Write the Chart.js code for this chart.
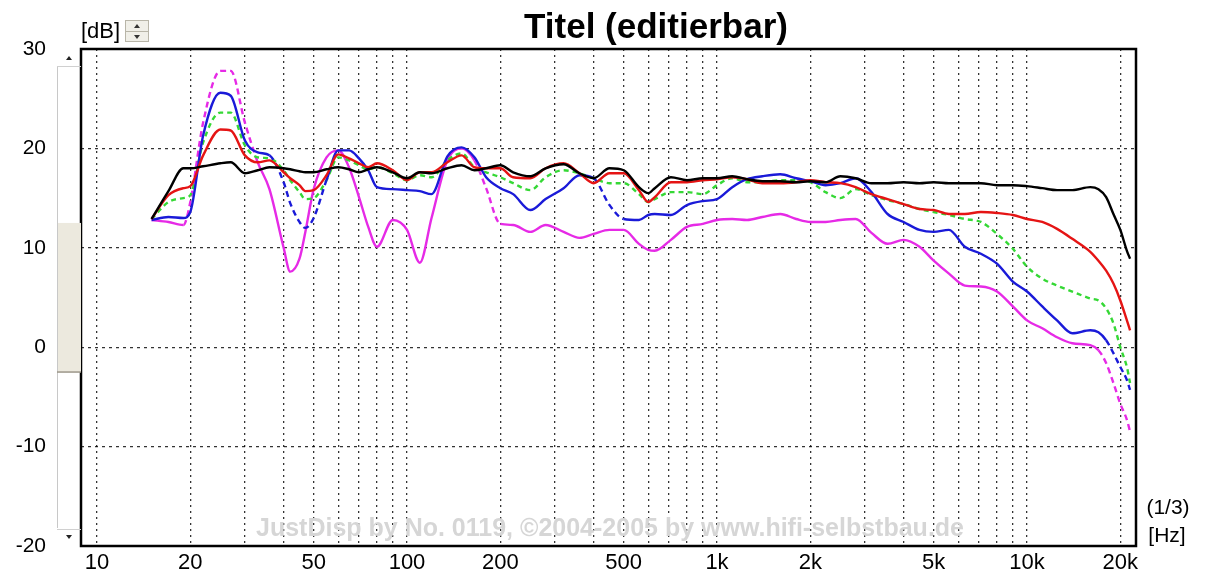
<!DOCTYPE html>
<html>
<head>
<meta charset="utf-8">
<script src="https://cdn.jsdelivr.net/npm/chart.js@4.4.0/dist/chart.umd.min.js"></script>
<style>
  html, body { margin: 0; padding: 0; background: #fff; }
  #wrap { width: 1206px; height: 578px; }
</style>
</head>
<body>
<div id="wrap"><canvas id="chart" width="1206" height="578"></canvas></div>
<script>
// Frequenzgang, 1/3 Oktave geglättet
const FREQS = [
  15, 17, 19, 20, 22, 25, 27, 30, 33, 36,
  40, 42, 45, 47, 50, 55, 60, 65, 70, 75,
  80, 90, 100, 110, 120, 135, 150, 165, 180, 200,
  220, 250, 280, 320, 360, 400, 450, 500, 560, 600,
  630, 710, 800, 900, 1000, 1120, 1250, 1400, 1600, 1800,
  2000, 2240, 2500, 2800, 3150, 3550, 4000, 4500, 5000, 5600,
  6300, 7100, 8000, 9000, 10000, 11200, 12500, 14000, 16000, 17000,
  18000, 19000, 20000, 21000, 21500
];

const BLACK = [
  12.9, 15.7, 18.0, 18.0, 18.2, 18.5, 18.6, 17.5, 17.8, 18.1,
  18.0, 17.9, 17.7, 17.6, 17.6, 17.9, 18.1, 17.9, 17.6, 17.9,
  18.1, 17.6, 17.0, 17.6, 17.5, 18.0, 18.3, 17.8, 18.0, 18.3,
  17.6, 17.2, 18.0, 18.4, 17.5, 17.0, 18.0, 17.8, 16.1, 15.5,
  16.0, 17.1, 16.8, 17.0, 17.0, 17.2, 16.9, 16.7, 16.7, 16.6,
  16.7, 16.6, 17.2, 17.0, 16.5, 16.5, 16.6, 16.5, 16.6, 16.5,
  16.5, 16.5, 16.3, 16.3, 16.2, 16.0, 15.8, 15.8, 16.1, 15.9,
  15.1, 13.4, 11.8, 9.7, 8.9
];

const RED = [
  12.9, 15.3, 16.0, 16.2, 19.3, 21.9, 21.8, 19.3, 18.6, 18.8,
  17.6, 17.0, 16.3, 15.7, 15.8, 17.3, 19.4, 19.0, 18.5, 18.1,
  18.5, 17.8, 16.8, 17.6, 17.6, 18.6, 19.3, 18.1, 18.0, 18.0,
  17.1, 17.0, 18.0, 18.5, 17.5, 16.5, 17.5, 17.5, 15.8, 14.6,
  15.1, 16.6, 16.6, 16.8, 16.9, 17.1, 16.9, 16.5, 16.5, 16.6,
  16.8, 16.6, 16.5, 16.1, 15.4, 14.9, 14.4, 13.9, 13.8, 13.4,
  13.4, 13.6, 13.5, 13.3, 12.9, 12.6, 11.9, 10.9, 9.6, 8.7,
  7.7, 6.4, 4.7, 2.7, 1.7
];

const GREEN = [
  12.9, 14.6, 15.0, 15.3, 20.6, 23.6, 23.6, 20.3, 19.1, 19.0,
  17.8, 16.8, 15.6, 14.9, 15.0, 16.8, 19.1, 18.8, 18.3, 17.9,
  18.1, 17.5, 16.8, 17.3, 17.1, 18.8, 19.5, 18.1, 17.6, 17.1,
  16.5, 15.8, 17.1, 17.8, 17.5, 17.0, 16.5, 16.5, 15.4, 14.6,
  14.9, 15.6, 15.6, 15.4, 16.3, 17.0, 16.6, 16.6, 16.8, 16.8,
  16.6, 15.6, 15.0, 15.9, 15.3, 14.8, 14.4, 13.9, 13.6, 13.3,
  12.9, 12.6, 11.4, 9.9, 8.1, 6.9, 6.2, 5.6, 4.9, 4.7,
  3.9, 2.4, 0.0, -2.0, -3.6
];

const BLUE = [
  12.8, 13.1, 13.0, 13.6, 21.3, 25.6, 25.3, 20.8, 19.6, 19.3,
  16.6, 14.5, 12.6, 12.0, 13.0, 16.8, 19.8, 19.8, 19.0, 17.8,
  16.1, 15.9, 15.8, 15.7, 15.4, 19.2, 20.1, 19.1, 17.1, 16.0,
  15.4, 13.8, 14.9, 16.0, 17.3, 17.0, 14.3, 12.9, 12.8, 13.3,
  13.4, 13.3, 14.3, 14.7, 14.9, 16.1, 16.9, 17.2, 17.4, 17.0,
  16.7, 16.3, 16.5, 17.0, 15.6, 13.4, 12.6, 11.8, 11.6, 11.8,
  10.1, 9.4, 8.4, 6.6, 5.6, 4.1, 2.7, 1.4, 1.7, 1.5,
  0.7, -0.6, -2.0, -3.3, -4.3
];

const MAGENTA = [
  12.8, 12.6, 12.3, 14.6, 22.6, 27.8, 27.8, 22.6, 18.6, 15.9,
  10.0, 7.6, 8.9, 11.6, 15.9, 19.1, 19.8, 18.1, 15.1, 12.1,
  10.1, 12.8, 11.8, 8.5, 13.0, 18.8, 20.0, 18.8, 16.0, 12.4,
  12.3, 11.6, 12.3, 11.6, 11.0, 11.4, 11.8, 11.8, 10.4, 9.8,
  9.7, 10.8, 12.1, 12.4, 12.8, 12.9, 12.8, 13.1, 13.4, 12.9,
  12.6, 12.6, 12.8, 12.9, 11.5, 10.4, 10.8, 10.1, 8.7, 7.4,
  6.2, 6.1, 5.6, 4.1, 2.7, 1.9, 1.0, 0.4, 0.2, -0.3,
  -1.6, -3.6, -5.7, -7.3, -8.5
];

// gestrichelte Abschnitte (Frequenzbereiche)
const BLUE_DASHED = [[36, 55], [400, 500], [18000, 21500]];
const MAGENTA_DASHED = [[19, 33], [165, 200], [17000, 21500]];

// Achsen
const X_MIN = 8.88, X_MAX = 22470;
const X_GRID = [
  10, 20, 30, 40, 50, 60, 70, 80, 90,
  100, 200, 300, 400, 500, 600, 700, 800, 900,
  1000, 2000, 3000, 4000, 5000, 6000, 7000, 8000, 9000,
  10000, 20000
];
const X_TICK_VALUES = [10, 20, 50, 100, 200, 500, 1000, 2000, 5000, 10000, 20000];
const X_TICK_LABELS = ["10", "20", "50", "100", "200", "500", "1k", "2k", "5k", "10k", "20k"];
const Y_MIN = -20, Y_MAX = 30, Y_STEP = 10;

const TITLE = "Titel (editierbar)";
const WATERMARK = "JustDisp by No. 0119, \u00a92004-2005 by www.hifi-selbstbau.de";
const FONT = '"Liberation Sans", Arial, sans-serif';

// ---------- Helpers ----------
function points(values) {
  return FREQS.map((f, i) => ({ x: f, y: values[i] }));
}

function dashedIn(ranges) {
  return ctx => {
    const a = ctx.p0.parsed.x, b = ctx.p1.parsed.x;
    return ranges.some(([lo, hi]) => a >= lo && b <= hi) ? [6, 4] : undefined;
  };
}

function line(label, values, color, extra) {
  return Object.assign({
    label,
    data: points(values),
    borderColor: color,
    borderWidth: 2.4,
    pointRadius: 0,
    cubicInterpolationMode: "monotone",
    fill: false
  }, extra || {});
}

// ---------- Deko: Rahmen, Titel, Beschriftungen, Scrollbalken ----------
const decor = {
  id: "decor",
  beforeDatasetsDraw(chart) {
    const { ctx } = chart;
    ctx.save();
    ctx.font = "bold 25px " + FONT;
    ctx.fillStyle = "#d6d6d6";
    ctx.textAlign = "center";
    ctx.textBaseline = "middle";
    ctx.fillText(WATERMARK, 610, 529);
    ctx.restore();
  },
  afterDraw(chart) {
    const { ctx, chartArea: a } = chart;
    ctx.save();

    // Rahmen
    ctx.strokeStyle = "#000";
    ctx.lineWidth = 2.5;
    ctx.strokeRect(a.left, a.top, a.right - a.left, a.bottom - a.top);

    // Titel
    ctx.fillStyle = "#000";
    ctx.font = "bold 35px " + FONT;
    ctx.textAlign = "center";
    ctx.textBaseline = "alphabetic";
    ctx.fillText(TITLE, 656, 38);

    // Einheiten
    ctx.font = "22px " + FONT;
    ctx.textAlign = "left";
    ctx.fillText("[dB]", 81, 38);
    ctx.textAlign = "center";
    ctx.font = "21px " + FONT;
    ctx.fillText("(1/3)", 1168, 514);
    ctx.fillText("[Hz]", 1167, 542);

    // kleiner Spinner neben [dB]
    ctx.fillStyle = "#f0efe8";
    ctx.fillRect(125, 20, 24, 22);
    ctx.strokeStyle = "#b8b5a8";
    ctx.lineWidth = 1;
    ctx.strokeRect(125.5, 20.5, 23, 21);
    ctx.beginPath();
    ctx.moveTo(126, 31.5); ctx.lineTo(148, 31.5);
    ctx.stroke();
    ctx.fillStyle = "#333";
    ctx.beginPath();
    ctx.moveTo(134, 28); ctx.lineTo(137, 24); ctx.lineTo(140, 28); ctx.fill();
    ctx.beginPath();
    ctx.moveTo(134, 35); ctx.lineTo(137, 39); ctx.lineTo(140, 35); ctx.fill();

    // Scrollbalken links der Plotfläche
    const h = a.bottom - a.top;
    const sx = a.left - 24;
    ctx.strokeStyle = "#c8c8c8";
    ctx.lineWidth = 1;
    ctx.beginPath();
    ctx.moveTo(sx + 0.5, a.top + 18); ctx.lineTo(sx + 0.5, a.bottom - 18);
    ctx.stroke();
    const t0 = a.top + h * 0.35, t1 = a.top + h * 0.65;
    ctx.fillStyle = "#ece9de";
    ctx.fillRect(sx + 1, t0, 23, t1 - t0);
    ctx.strokeStyle = "#9c978a";
    ctx.lineWidth = 1.5;
    ctx.beginPath();
    ctx.moveTo(sx, t1); ctx.lineTo(a.left, t1);
    ctx.stroke();
    ctx.strokeStyle = "#d0d0d0";
    ctx.lineWidth = 1;
    ctx.beginPath();
    ctx.moveTo(sx, a.top + 17.5); ctx.lineTo(a.left, a.top + 17.5);
    ctx.moveTo(sx, a.bottom - 16.5); ctx.lineTo(a.left, a.bottom - 16.5);
    ctx.stroke();
    ctx.fillStyle = "#222";
    ctx.beginPath();
    ctx.moveTo(sx + 9, a.top + 11); ctx.lineTo(sx + 12, a.top + 7); ctx.lineTo(sx + 15, a.top + 11); ctx.fill();
    ctx.beginPath();
    ctx.moveTo(sx + 9, a.bottom - 11); ctx.lineTo(sx + 12, a.bottom - 7); ctx.lineTo(sx + 15, a.bottom - 11); ctx.fill();

    ctx.restore();
  }
};

// ---------- Chart ----------
function start() {
  const canvas = document.getElementById("chart");
  new Chart(canvas, {
    type: "line",
    data: {
      datasets: [
        line("Schwarz", BLACK, "#000000"),
        line("Rot", RED, "#e51414"),
        line("Blau", BLUE, "#1a1ad8", { segment: { borderDash: dashedIn(BLUE_DASHED) } }),
        line("Gr\u00fcn", GREEN, "#35d835", { borderDash: [5, 4] }),
        line("Magenta", MAGENTA, "#e62ae6", { segment: { borderDash: dashedIn(MAGENTA_DASHED) } })
      ]
    },
    options: {
      responsive: false,
      animation: false,
      devicePixelRatio: 1,
      layout: { padding: { top: 49, right: 70, left: 0, bottom: 0 } },
      plugins: {
        legend: { display: false },
        title: { display: false },
        tooltip: { enabled: false }
      },
      scales: {
        x: {
          type: "logarithmic",
          min: X_MIN,
          max: X_MAX,
          afterBuildTicks(scale) {
            scale.ticks = X_GRID.map(v => ({ value: v }));
          },
          afterFit(scale) { scale.height = 32; },
          ticks: {
            autoSkip: false,
            maxRotation: 0,
            padding: 4,
            color: "#000",
            font: { family: FONT, size: 22 },
            callback(value) {
              const i = X_TICK_VALUES.indexOf(value);
              return i >= 0 ? X_TICK_LABELS[i] : "";
            }
          },
          grid: { color: "rgba(0,0,0,0.8)", lineWidth: 1.3, drawTicks: false },
          border: { display: false, dash: [2, 4] }
        },
        y: {
          min: Y_MIN,
          max: Y_MAX,
          afterFit(scale) { scale.width = 81; },
          ticks: {
            stepSize: Y_STEP,
            padding: 0,
            color: "#000",
            font: { family: FONT, size: 21 }
          },
          // unsichtbare Tickstriche schaffen Platz für den Scrollbalken
          grid: {
            color: "rgba(0,0,0,0.8)",
            lineWidth: 1.3,
            drawTicks: true,
            tickLength: 35,
            tickColor: "rgba(0,0,0,0)"
          },
          border: { display: false, dash: [3, 4] }
        }
      }
    },
    plugins: [decor]
  });
}

document.addEventListener("DOMContentLoaded", start);
</script>
</body>
</html>
